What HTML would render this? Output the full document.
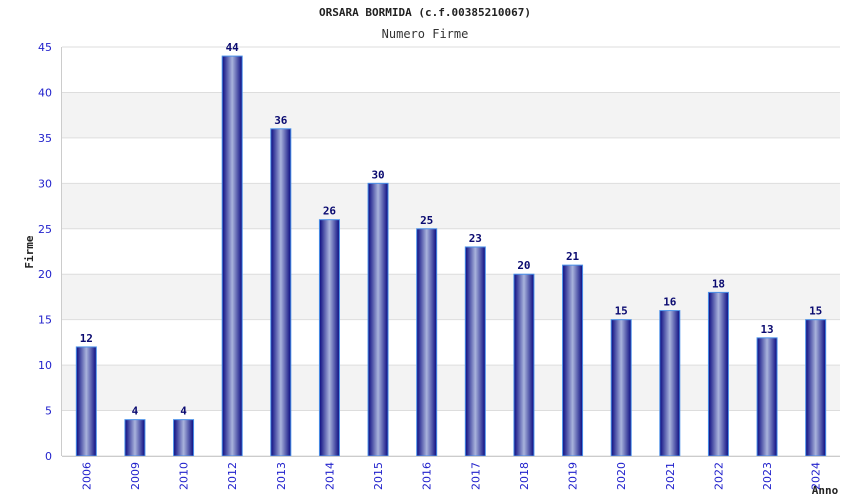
<!DOCTYPE html>
<html><head><meta charset="utf-8"><style>
body{margin:0;background:#fff}
svg{display:block;font-family:"DejaVu Sans Mono","Liberation Mono",monospace}
.tk{font-family:"DejaVu Sans","Liberation Sans",sans-serif}
</style></head><body>
<svg id="c" width="850" height="500">
<defs><linearGradient id="g" x1="0" x2="1" y1="0" y2="0">
<stop offset="0" stop-color="#0a0a80"/><stop offset="0.5" stop-color="#a9b3dc"/><stop offset="1" stop-color="#0a0a80"/></linearGradient></defs>
<text x="425" y="16" text-anchor="middle" font-size="11" font-weight="bold" fill="#222">ORSARA BORMIDA (c.f.00385210067)</text>
<text x="425" y="38" text-anchor="middle" font-size="12" fill="#333">Numero Firme</text>
<text transform="translate(33,252) rotate(-90)" text-anchor="middle" font-size="11" font-weight="bold" fill="#222">Firme</text>
<text x="825" y="494" text-anchor="middle" font-size="11" font-weight="bold" fill="#222">Anno</text>
<g id="grid"></g><g id="bars"></g><g id="axes"></g>
</svg>
<script>
const categories=["2006","2009","2010","2012","2013","2014","2015","2016","2017","2018","2019","2020","2021","2022","2023","2024"];
const values=[12,4,4,44,36,26,30,25,23,20,21,15,16,18,13,15];
const yTicks=[0,5,10,15,20,25,30,35,40,45];
const NS="http://www.w3.org/2000/svg";
const L=62,R=840,T=47,B=456,YMAX=45;
const y=v=>B-(v/YMAX)*(B-T);
const bw=(R-L)/categories.length;
const x=i=>L+bw*(i+0.5);
function mk(t,a,p){const e=document.createElementNS(NS,t);for(const k in a)e.setAttribute(k,a[k]);p.appendChild(e);return e;}
const grid=document.getElementById('grid'),bars=document.getElementById('bars'),axes=document.getElementById('axes');
for(let i=0;i<yTicks.length-1;i++){
  if(i%2==1){const r=mk('rect',{x:L,y:y(yTicks[i+1]),width:R-L,height:y(yTicks[i])-y(yTicks[i+1]),fill:'#f3f3f3'},grid);
  
  }
}
yTicks.forEach(t=>{
  const l=mk('line',{x1:L,x2:R,y1:y(t),y2:y(t),stroke:'#ddd'},grid);
  
  
  const tx=mk('text',{x:L-10,y:y(t)+4,'text-anchor':'end','font-size':11,fill:'#22c','class':'tk'},axes);
  tx.textContent=t;
  
  
});
mk('line',{x1:L-0.5,x2:L-0.5,y1:T,y2:B,stroke:'#ccc'},axes);
mk('line',{x1:L,x2:R,y1:B+0.5,y2:B+0.5,stroke:'#ccc'},axes);
values.forEach((v,i)=>{
  const cx=x(i);
  const r=mk('rect',{x:cx-10,y:y(v),width:20,height:B-y(v),fill:'url(#g)',stroke:'#4a90e8','stroke-width':1},bars);
  
  
  const lb=mk('text',{x:cx,y:y(v)-5,'text-anchor':'middle','font-size':11,'font-weight':'bold',fill:'#0a0a70'},bars);
  lb.textContent=v;
  
  
  const xl=mk('text',{transform:`translate(${cx+4},${B+6}) rotate(-90)`,'text-anchor':'end','font-size':11,fill:'#22c','class':'tk'},axes);
  xl.textContent=categories[i];
  
  
});
</script>
</body></html>
